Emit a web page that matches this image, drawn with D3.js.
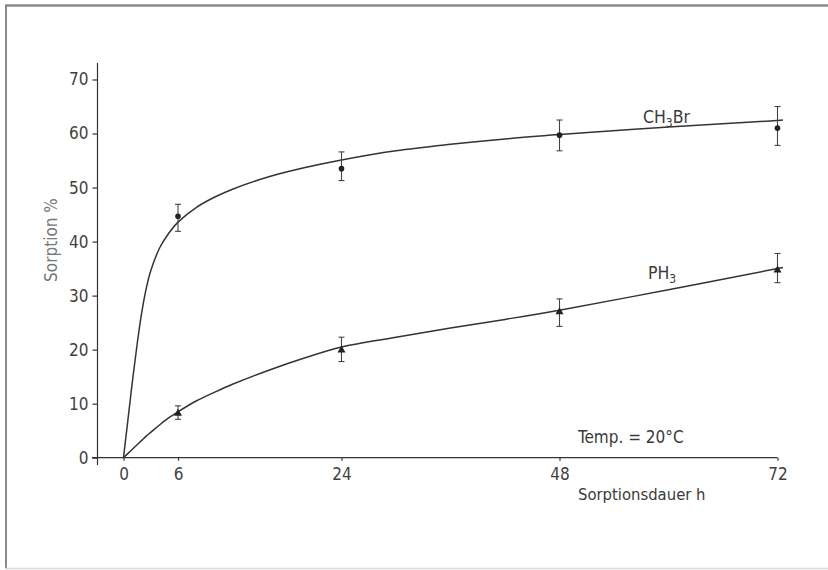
<!DOCTYPE html>
<html>
<head>
<meta charset="utf-8">
<script src="https://cdn.jsdelivr.net/npm/d3@7"></script>
<style>
  html, body { margin: 0; padding: 0; background: #fff; }
  svg { display: block; }
  text { font-family: "DejaVu Sans Condensed", "Liberation Sans Narrow", "DejaVu Sans", sans-serif; font-stretch: condensed; fill: #3a3a3a; }
</style>
</head>
<body>
<svg id="chart" width="828" height="570"></svg>
<script>
// Sampling times (h) and measured sorption (%) with error-bar limits
const hours = [6, 24, 48, 72];
const ch3brMean = [44.7, 53.5, 59.7, 61.0];
const ch3brLow  = [41.9, 51.3, 56.8, 57.8];
const ch3brHigh = [46.9, 56.6, 62.5, 65.0];
const ph3Mean = [8.2, 19.9, 27.0, 34.7];
const ph3Low  = [7.1, 17.8, 24.3, 32.4];
const ph3High = [9.6, 22.3, 29.4, 37.8];

// Hand-drawn fit curves, read as knots along the time axis
const fitHours = [0, 0.5, 1, 1.5, 2, 2.5, 3, 4, 5, 6, 8, 10, 12, 16, 20, 24, 30, 36, 42, 48, 60, 72, 72.6];
const ch3brFit = [0, 7.2, 14.4, 21.0, 26.8, 31.3, 34.6, 38.9, 41.6, 43.6, 46.3, 48.2, 49.7, 52.0, 53.7, 55.1, 56.8, 58.0, 59.0, 59.8, 61.2, 62.4, 62.5];
const ph3Fit   = [0, 0.8, 1.6, 2.4, 3.2, 4.0, 4.7, 6.1, 7.4, 8.5, 10.5, 12.1, 13.6, 16.2, 18.5, 20.5, 22.3, 24.0, 25.6, 27.3, 31.1, 35.0, 35.2];

// Axis ticks
const xTicks = [0, 6, 24, 48, 72];
const yTicks = [0, 10, 20, 30, 40, 50, 60, 70];

const svg = d3.select("#chart");
const ink = "#333";

// Page frame
svg.append("line").attr("x1", 5).attr("x2", 828).attr("y1", 5.5).attr("y2", 5.5)
  .attr("stroke", "#8a8a8a").attr("stroke-width", 2.5);
svg.append("line").attr("x1", 6).attr("x2", 6).attr("y1", 5).attr("y2", 569)
  .attr("stroke", "#8a8a8a").attr("stroke-width", 2);
svg.append("line").attr("x1", 5).attr("x2", 828).attr("y1", 568.5).attr("y2", 568.5)
  .attr("stroke", "#d8d8d8").attr("stroke-width", 1.5);

const x = d3.scaleLinear().domain([0, 72]).range([123.5, 777.5]);
const y = d3.scaleLinear().domain([0, 70]).range([457.7, 79.5]);
const yAxisX = 97.5;

// Y axis
const yAxis = svg.append("g").attr("transform", `translate(${yAxisX},0)`)
  .call(d3.axisLeft(y).tickValues(yTicks).tickSize(5).tickSizeOuter(0).tickPadding(4));
yAxis.select(".domain").remove();
yAxis.selectAll(".tick line").attr("stroke", ink).attr("stroke-width", 1.2);
yAxis.selectAll(".tick text").attr("font-size", 17).style("fill", "#3f3f3f");
svg.append("line").attr("x1", yAxisX).attr("x2", yAxisX)
  .attr("y1", 63).attr("y2", 465).attr("stroke", ink).attr("stroke-width", 1.2);

// X axis
const xAxis = svg.append("g").attr("transform", `translate(0,${y(0)})`)
  .call(d3.axisBottom(x).tickValues(xTicks).tickSize(3).tickSizeOuter(0).tickPadding(7));
xAxis.select(".domain").remove();
xAxis.selectAll(".tick line").attr("stroke", ink).attr("stroke-width", 1.2);
xAxis.selectAll(".tick text").attr("font-size", 17).style("fill", "#3f3f3f");
svg.append("line").attr("x1", 92).attr("x2", x(72)).attr("y1", y(0)).attr("y2", y(0))
  .attr("stroke", ink).attr("stroke-width", 1.2);

// Axis titles
svg.append("text").attr("transform", "translate(57,240) rotate(-90)")
  .attr("text-anchor", "middle").attr("font-size", 17).style("fill", "#777")
  .text("Sorption %");
svg.append("text").attr("x", 578).attr("y", 500).attr("font-size", 16.5)
  .text("Sorptionsdauer  h");

// Fit curves
const line = d3.line().x(d => x(d[0])).y(d => y(d[1])).curve(d3.curveCatmullRom.alpha(0.5));
[ch3brFit, ph3Fit].forEach(vals => {
  svg.append("path").datum(fitHours.map((h, i) => [h, vals[i]]))
    .attr("d", line).attr("fill", "none").attr("stroke", ink).attr("stroke-width", 1.5);
});

// Error bars
function errorBars(lo, hi) {
  const g = svg.append("g").attr("stroke", "#444").attr("stroke-width", 1.1);
  hours.forEach((h, i) => {
    const cx = x(h);
    g.append("line").attr("x1", cx).attr("x2", cx).attr("y1", y(lo[i])).attr("y2", y(hi[i]));
    g.append("line").attr("x1", cx - 3).attr("x2", cx + 3).attr("y1", y(lo[i])).attr("y2", y(lo[i]));
    g.append("line").attr("x1", cx - 3).attr("x2", cx + 3).attr("y1", y(hi[i])).attr("y2", y(hi[i]));
  });
}
errorBars(ch3brLow, ch3brHigh);
errorBars(ph3Low, ph3High);

// Markers
svg.append("g").selectAll("circle").data(hours).join("circle")
  .attr("cx", d => x(d)).attr("cy", (d, i) => y(ch3brMean[i])).attr("r", 2.8).attr("fill", "#222");
const tri = d3.symbol().type(d3.symbolTriangle).size(28);
svg.append("g").selectAll("path").data(hours).join("path")
  .attr("transform", (d, i) => `translate(${x(d)},${y(ph3Mean[i])})`).attr("d", tri).attr("fill", "#222");

// Curve labels
const lab1 = svg.append("text").attr("x", 643).attr("y", 123).attr("font-size", 17.5);
lab1.append("tspan").text("CH");
lab1.append("tspan").attr("font-size", 12).attr("dy", 4).text("3");
lab1.append("tspan").attr("dy", -4).text("Br");
const lab2 = svg.append("text").attr("x", 648).attr("y", 279).attr("font-size", 17.5);
lab2.append("tspan").text("PH");
lab2.append("tspan").attr("font-size", 12).attr("dy", 4).text("3");

svg.append("text").attr("x", 578).attr("y", 443).attr("font-size", 17).text("Temp. = 20°C");
</script>
</body>
</html>
